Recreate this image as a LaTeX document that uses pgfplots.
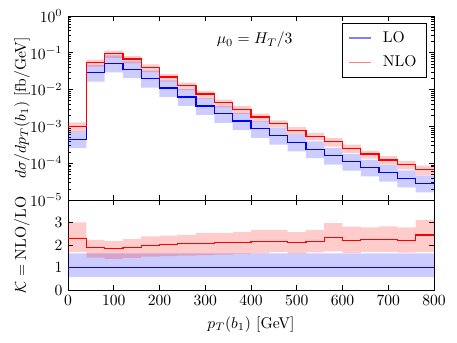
\documentclass[border=0pt]{standalone}
\usepackage{pgfplots}
\usepackage{pgfplotstable}
\pgfplotsset{compat=1.18}
\usepgfplotslibrary{fillbetween}

% bin left edges, last row repeats the final bin at x=800
\pgfplotstableread{
x   lo      lolow    lohigh   nlo      nlolow   nlohigh  k     klow  khigh r  rlow rhigh
0   4.5e-4  2.57e-4  7.34e-4  9.8e-4   7.25e-4  1.29e-3  2.28  1.69  3.01  1  0.57 1.63
40  0.029   0.0165   0.0473   0.055    0.0424   0.0655   1.88  1.44  2.23  1  0.57 1.63
80  0.052   0.0296   0.0848   0.097    0.0728   0.114    1.84  1.38  2.17  1  0.57 1.63
120 0.036   0.0205   0.0587   0.068    0.0517   0.0816   1.88  1.43  2.26  1  0.57 1.63
160 0.020   0.0114   0.0326   0.040    0.030    0.0484   1.97  1.48  2.38  1  0.57 1.63
200 0.011   0.00627  0.0179   0.022    0.0165   0.0264   2.01  1.51  2.42  1  0.57 1.63
240 0.0063  0.00359  0.0103   0.013    0.00962  0.0155   2.06  1.53  2.45  1  0.57 1.63
280 0.0036  0.00205  0.00587  0.0076   0.0057   0.00927  2.08  1.55  2.54  1  0.57 1.63
320 0.0022  0.00125  0.00359  0.0044   0.0033   0.00532  2.10  1.57  2.54  1  0.57 1.63
360 0.0014  7.98e-4  0.00228  0.0029   0.0022   0.00354  2.11  1.60  2.57  1  0.57 1.63
400 8.6e-4  4.90e-4  0.00140  0.0018   0.00135  0.00223  2.16  1.63  2.67  1  0.57 1.63
440 5.6e-4  3.19e-4  9.13e-4  0.00118  9.2e-4   0.00146  2.16  1.69  2.67  1  0.57 1.63
480 3.7e-4  2.11e-4  6.03e-4  7.8e-4   6.0e-4   9.5e-4   2.11  1.62  2.57  1  0.57 1.63
520 2.4e-4  1.37e-4  3.91e-4  5.4e-4   4.16e-4  6.7e-4   2.16  1.67  2.67  1  0.57 1.63
560 1.6e-4  9.12e-5  2.61e-4  3.8e-4   2.81e-4  4.86e-4  2.32  1.72  2.97  1  0.57 1.63
600 1.1e-4  6.27e-5  1.79e-4  2.5e-4   1.88e-4  3.2e-4   2.20  1.65  2.82  1  0.57 1.63
640 7.7e-5  4.39e-5  1.26e-4  1.78e-4  1.34e-4  2.21e-4  2.25  1.69  2.78  1  0.57 1.63
680 5.5e-5  3.14e-5  8.97e-5  1.23e-4  9.2e-5   1.55e-4  2.25  1.69  2.83  1  0.57 1.63
720 3.9e-5  2.22e-5  6.36e-5  9.1e-5   6.8e-5   1.15e-4  2.20  1.66  2.78  1  0.57 1.63
760 2.8e-5  1.60e-5  4.56e-5  6.8e-5   4.7e-5   8.6e-5   2.44  1.69  3.11  1  0.57 1.63
800 2.8e-5  1.60e-5  4.56e-5  6.8e-5   4.7e-5   8.6e-5   2.44  1.69  3.11  1  0.57 1.63
}\ptdata

\definecolor{lored}{RGB}{255,0,0}
\definecolor{loblue}{RGB}{0,0,255}

\pgfplotsset{
  panel/.style={
    scale only axis, width=234.24pt, xmin=0, xmax=800,
    xtick={0,100,...,800},
    tick style={black, thin},
    major tick length=3.5pt, minor tick length=2pt,
    ylabel style={at={(axis description cs:-0.126,0.5)}, anchor=center},
  },
  band/.style={fill=#1, fill opacity=0.2, draw=none},
  stepline/.style={const plot mark left, no marks, draw=#1, line width=0.8pt, forget plot},
}

\begin{document}
\begin{tikzpicture}
\begin{axis}[panel, name=top, at={(0pt,0pt)}, anchor=south west,
  height=117.76pt, ymode=log, ymin=1e-5, ymax=1,
  xticklabels={},
  ylabel={$d\sigma/dp_T(b_1)$ [fb/GeV]},
  legend style={at={(axis description cs:0.979,0.96)}, anchor=north east, draw=black, fill=white,
    cells={anchor=west}, row sep=3pt, inner xsep=4pt, inner ysep=3pt,
    /tikz/every odd column/.style={column sep=5pt}},
  legend image code/.code={\draw[#1] (0cm,0cm) -- (0.5cm,0cm);},
]
\addplot[const plot mark left, draw=none, name path=lh, forget plot] table[x=x, y=lohigh] {\ptdata};
\addplot[const plot mark left, draw=none, name path=ll, forget plot] table[x=x, y=lolow] {\ptdata};
\addplot[band=loblue, forget plot] fill between[of=lh and ll];
\addplot[const plot mark left, draw=none, name path=nh, forget plot] table[x=x, y=nlohigh] {\ptdata};
\addplot[const plot mark left, draw=none, name path=nl, forget plot] table[x=x, y=nlolow] {\ptdata};
\addplot[band=lored, forget plot] fill between[of=nh and nl];
\addplot[stepline=loblue] table[x=x, y=lo] {\ptdata};
\addplot[stepline=lored] table[x=x, y=nlo] {\ptdata};
\addlegendimage{loblue!50, line width=1.1pt}
\addlegendentry{LO}
\addlegendimage{lored!50, line width=1.1pt}
\addlegendentry{NLO}
\node at (rel axis cs:0.51,0.87) {$\mu_0 = H_T/3$};
\end{axis}

\begin{axis}[panel, at={(0pt,0pt)}, anchor=north west,
  height=57.6pt, ymin=0, ymax=4, ytick={0,1,2,3},
  xlabel={$p_T(b_1)$ [GeV]},
  ylabel={$\mathcal{K} = \mathrm{NLO/LO}$},
]
\addplot[const plot mark left, draw=none, name path=rh, forget plot] table[x=x, y=rhigh] {\ptdata};
\addplot[const plot mark left, draw=none, name path=rl, forget plot] table[x=x, y=rlow] {\ptdata};
\addplot[band=loblue, forget plot] fill between[of=rh and rl];
\addplot[const plot mark left, draw=none, name path=kh, forget plot] table[x=x, y=khigh] {\ptdata};
\addplot[const plot mark left, draw=none, name path=kl, forget plot] table[x=x, y=klow] {\ptdata};
\addplot[band=lored, forget plot] fill between[of=kh and kl];
\addplot[stepline=loblue] table[x=x, y=r] {\ptdata};
\addplot[stepline=lored] table[x=x, y=k] {\ptdata};
\end{axis}
\pgfresetboundingbox
\path[use as bounding box] (-43.52pt,-91.52pt) rectangle (248.96pt,128pt);
\end{tikzpicture}
\end{document}
